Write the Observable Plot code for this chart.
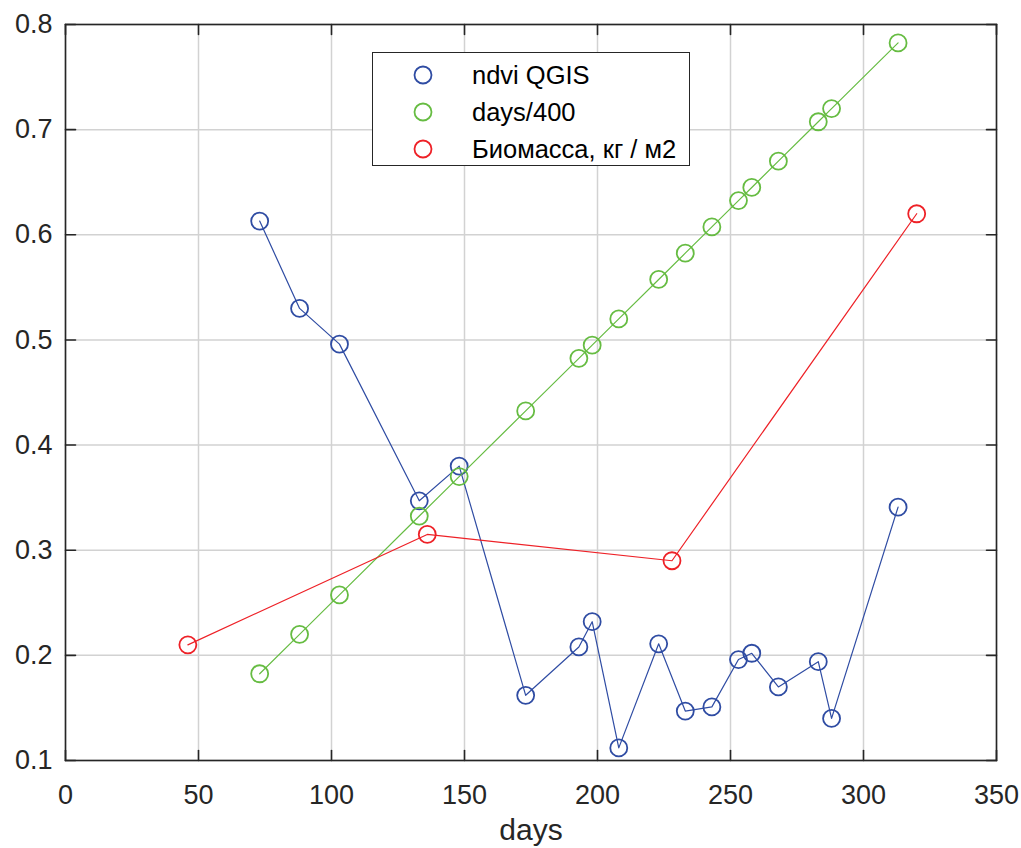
<!DOCTYPE html>
<html>
<head>
<meta charset="utf-8">
<script src="https://cdn.jsdelivr.net/npm/d3@7"></script>
<script src="https://cdn.jsdelivr.net/npm/@observablehq/plot@0.6"></script>
<style>
  html, body { margin: 0; padding: 0; background: #fff; }
  #wrap { position: relative; width: 1021px; height: 848px; font-family: "Liberation Sans", Arial, sans-serif; }
  #legend { position: absolute; left: 372px; top: 52px; width: 318px; height: 114px; box-sizing: border-box;
            border: 1px solid #262626; background: #fff; }
  .row { position: absolute; left: 0; height: 30px; display: flex; align-items: center; font-size: 25.5px; color: #000; white-space: nowrap; }
  .row svg { position: absolute; left: 39px; top: 5px; }
  .row span { position: absolute; left: 99px; line-height: 30px; }
</style>
</head>
<body>
<div id="wrap"></div>
<script>
// ---- data ----
const ndviDays = [73, 88, 103, 133, 148, 173, 193, 198, 208, 223, 233, 243, 253, 258, 268, 283, 288, 313];
const ndviValues = [0.613, 0.530, 0.496, 0.347, 0.380, 0.162, 0.208, 0.232, 0.112, 0.211, 0.147, 0.151, 0.196, 0.202, 0.170, 0.194, 0.140, 0.341];
const ratioDays = [73, 88, 103, 133, 148, 173, 193, 198, 208, 223, 233, 243, 253, 258, 268, 283, 288, 313];
const ratioValues = [0.1825, 0.22, 0.2575, 0.3325, 0.37, 0.4325, 0.4825, 0.495, 0.52, 0.5575, 0.5825, 0.6075, 0.6325, 0.645, 0.67, 0.7075, 0.72, 0.7825];
const bioDays = [46, 136, 228, 320];
const bioValues = [0.21, 0.315, 0.29, 0.62];
const xTicks = [0, 50, 100, 150, 200, 250, 300, 350];
const yTicks = [0.1, 0.2, 0.3, 0.4, 0.5, 0.6, 0.7, 0.8];
const seriesNames = ["ndvi QGIS", "days/400", "Биомасса, кг / м2"];
const seriesColors = ["#2f4ca3", "#66bc42", "#ee2127"];
const xLabel = "days";

// ---- build ----
const toRows = (xs, ys) => xs.map((x, i) => ({x, y: ys[i]}));
const series = [toRows(ndviDays, ndviValues), toRows(ratioDays, ratioValues), toRows(bioDays, bioValues)];
const axisColor = "#262626";
const tickShape = { draw(context, l) { context.moveTo(0, 0); context.lineTo(0, -l); } };

const marks = [
  Plot.gridX(xTicks, {stroke: "#d2d2d2", strokeOpacity: 1, strokeWidth: 1.5}),
  Plot.gridY(yTicks, {stroke: "#d2d2d2", strokeOpacity: 1, strokeWidth: 1.5}),
];
series.forEach((rows, i) => {
  marks.push(Plot.line(rows, {x: "x", y: "y", stroke: seriesColors[i], strokeWidth: 1.2}));
  marks.push(Plot.dot(rows, {x: "x", y: "y", r: 8.5, stroke: seriesColors[i], strokeWidth: 1.8, fill: "none"}));
});
marks.push(
  Plot.frame({stroke: axisColor, strokeWidth: 1.6}),
  Plot.vector(xTicks, {x: d => d, frameAnchor: "bottom", length: 10, rotate: 0, anchor: "start", shape: tickShape, stroke: axisColor, strokeWidth: 1.6}),
  Plot.vector(xTicks, {x: d => d, frameAnchor: "top", length: 10, rotate: 180, anchor: "start", shape: tickShape, stroke: axisColor, strokeWidth: 1.6}),
  Plot.vector(yTicks, {y: d => d, frameAnchor: "left", length: 10, rotate: 90, anchor: "start", shape: tickShape, stroke: axisColor, strokeWidth: 1.6}),
  Plot.vector(yTicks, {y: d => d, frameAnchor: "right", length: 10, rotate: 270, anchor: "start", shape: tickShape, stroke: axisColor, strokeWidth: 1.6}),
  Plot.axisX({anchor: "bottom", ticks: xTicks, tickSize: 0, tickPadding: 24, label: null, fontSize: 27, fill: axisColor}),
  Plot.axisY({anchor: "left", ticks: yTicks, tickSize: 0, tickPadding: 13, label: null, tickFormat: d3.format(".1f"), fontSize: 27, fill: axisColor}),
  Plot.text([xLabel], {text: d => d, frameAnchor: "bottom", lineAnchor: "bottom", dy: 79, fontSize: 30, fill: axisColor})
);

const chart = Plot.plot({
  width: 1021,
  height: 848,
  marginLeft: 65,
  marginRight: 25,
  marginTop: 24,
  marginBottom: 88,
  x: {domain: [0, 350]},
  y: {domain: [0.1, 0.8]},
  style: {fontFamily: "'Liberation Sans', Arial, sans-serif", background: "#fff", color: axisColor},
  marks
});
const wrap = document.getElementById("wrap");
wrap.appendChild(chart);

// ---- legend ----
const legend = document.createElement("div");
legend.id = "legend";
const rowCenters = [21.5, 59, 95.5];
seriesNames.forEach((name, i) => {
  const row = document.createElement("div");
  row.className = "row";
  row.style.top = (rowCenters[i] - 15) + "px";
  row.innerHTML = `<svg width="22" height="20" viewBox="0 0 22 20"><circle cx="11" cy="10" r="8.5" fill="none" stroke="${seriesColors[i]}" stroke-width="1.8"/></svg><span>${name}</span>`;
  legend.appendChild(row);
});
wrap.appendChild(legend);
</script>
</body>
</html>
